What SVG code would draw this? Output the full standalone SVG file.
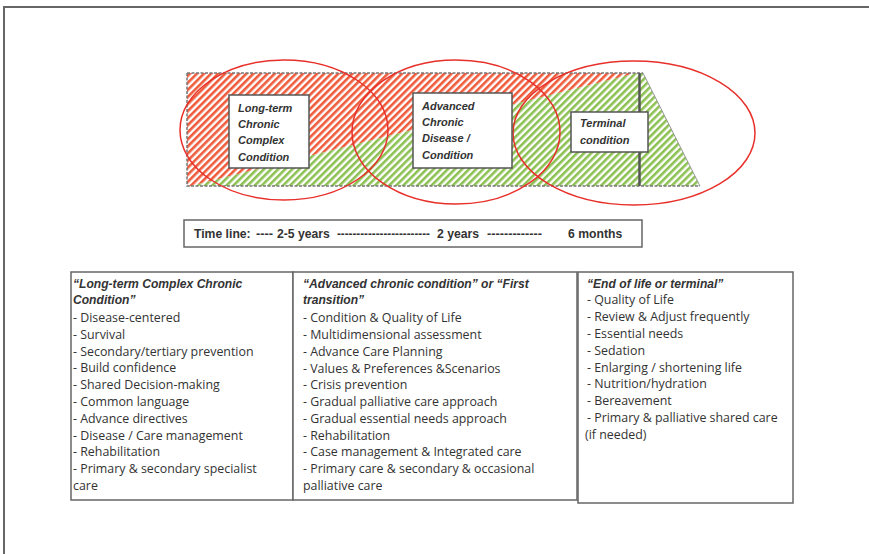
<svg xmlns="http://www.w3.org/2000/svg" width="869" height="554" viewBox="0 0 869 554">
<defs>
<pattern id="redHatch" patternUnits="userSpaceOnUse" width="5" height="5" patternTransform="rotate(45)">
<rect width="5" height="5" fill="#ffffff"/>
<rect width="2.6" height="5" fill="#ef5a3a"/>
</pattern>
<pattern id="greenHatch" patternUnits="userSpaceOnUse" width="5" height="5" patternTransform="rotate(45)">
<rect width="5" height="5" fill="#ffffff"/>
<rect width="2.6" height="5" fill="#8cc152"/>
</pattern>
</defs>
<style>
.frame{stroke:#666;stroke-width:2;fill:none}
.ell{fill:none;stroke:#e8302a;stroke-width:1.5}
.lbl{fill:#ffffff;stroke:#555;stroke-width:1.5}
.lt{font-family:"Liberation Sans",Arial,sans-serif;font-size:11px;font-weight:bold;font-style:italic;fill:#333}
.box{fill:#ffffff;stroke:#666;stroke-width:1.5}
.tt{font-family:"Liberation Sans",Arial,sans-serif;font-size:12.1px;font-weight:bold;font-style:italic;fill:#333}
.it{font-family:"Open Sans","Liberation Sans",Arial,sans-serif;font-size:12.4px;fill:#333}
.tl{font-family:"Liberation Sans",Arial,sans-serif;font-size:12.2px;font-weight:bold;fill:#333}
</style>
<rect width="869" height="554" fill="#ffffff"/>
<path class="frame" d="M4,554 V7 H869"/>

<g id="phases">
<polygon points="187,73 637,73 187,187" fill="url(#redHatch)"/>
<polygon points="187,187 637,73 643,73 700,186 187,186" fill="url(#greenHatch)"/>
<path d="M187,73 H643 M187,73 V186 H700" fill="none" stroke="#777" stroke-width="1.5" stroke-dasharray="3,1.5"/>
<line x1="643" y1="73" x2="700" y2="186" stroke="#999" stroke-width="1"/>
<line x1="639.5" y1="73" x2="639.5" y2="186" stroke="#555" stroke-width="2.5"/>
</g>

<g id="ellipses">
<ellipse class="ell" cx="284" cy="130" rx="104" ry="70"/>
<ellipse class="ell" cx="456" cy="132" rx="104" ry="72"/>
<ellipse class="ell" cx="634" cy="133" rx="121" ry="72"/>
</g>

<g id="label-longterm">
<rect class="lbl" x="229" y="95" width="80" height="73"/>
<text class="lt" x="238" y="112">Long-term</text>
<text class="lt" x="238" y="128">Chronic</text>
<text class="lt" x="238" y="144">Complex</text>
<text class="lt" x="238" y="161">Condition</text>
</g>

<g id="label-advanced">
<rect class="lbl" x="413" y="93" width="99" height="75"/>
<text class="lt" x="422" y="110">Advanced</text>
<text class="lt" x="422" y="126">Chronic</text>
<text class="lt" x="422" y="142">Disease /</text>
<text class="lt" x="422" y="159">Condition</text>
</g>

<g id="label-terminal">
<rect class="lbl" x="571" y="112" width="77" height="40"/>
<text class="lt" x="580" y="127">Terminal</text>
<text class="lt" x="580" y="144">condition</text>
</g>

<g id="timeline">
<rect class="box" x="184" y="220" width="458" height="27"/>
<text class="tl" x="194" y="238">Time line:</text>
<text class="tl" x="256" y="238" textLength="17" lengthAdjust="spacingAndGlyphs">----</text>
<text class="tl" x="277" y="238">2-5 years</text>
<text class="tl" x="337" y="238" textLength="93" lengthAdjust="spacingAndGlyphs">------------------------</text>
<text class="tl" x="437" y="238">2 years</text>
<text class="tl" x="487" y="238" textLength="55" lengthAdjust="spacingAndGlyphs">-------------</text>
<text class="tl" x="568" y="238">6 months</text>
</g>

<g id="box-longterm">
<rect class="box" x="71" y="272" width="222" height="228"/>
<text class="tt" x="73" y="288">“Long-term Complex Chronic</text>
<text class="tt" x="73" y="304">Condition”</text>
<text class="it" x="73" y="322">- Disease-centered</text>
<text class="it" x="73" y="339">- Survival</text>
<text class="it" x="73" y="356">- Secondary/tertiary prevention</text>
<text class="it" x="73" y="372">- Build  confidence</text>
<text class="it" x="73" y="389">- Shared Decision-making</text>
<text class="it" x="73" y="406">- Common language</text>
<text class="it" x="73" y="423">- Advance directives</text>
<text class="it" x="73" y="440">- Disease / Care management</text>
<text class="it" x="73" y="456">- Rehabilitation</text>
<text class="it" x="73" y="473">- Primary &amp; secondary specialist</text>
<text class="it" x="73" y="490">care</text>
</g>

<g id="box-advanced">
<rect class="box" x="293" y="272" width="284" height="228"/>
<text class="tt" x="303" y="288">“Advanced chronic condition” or “First</text>
<text class="tt" x="303" y="304">transition”</text>
<text class="it" x="303" y="322">- Condition &amp; Quality of Life</text>
<text class="it" x="303" y="339">- Multidimensional assessment</text>
<text class="it" x="303" y="356">- Advance Care Planning</text>
<text class="it" x="303" y="373">- Values &amp; Preferences &amp;Scenarios</text>
<text class="it" x="303" y="389">- Crisis prevention</text>
<text class="it" x="303" y="406">- Gradual palliative care approach</text>
<text class="it" x="303" y="423">- Gradual essential needs approach</text>
<text class="it" x="303" y="440">- Rehabilitation</text>
<text class="it" x="303" y="456">- Case management &amp; Integrated care</text>
<text class="it" x="303" y="473">- Primary care &amp; secondary &amp; occasional</text>
<text class="it" x="303" y="490">palliative care</text>
</g>

<g id="box-terminal">
<rect class="box" x="578" y="272" width="215" height="231"/>
<text class="tt" x="587" y="288">“End of life or terminal”</text>
<text class="it" x="587" y="304">- Quality of Life</text>
<text class="it" x="587" y="321">- Review &amp; Adjust frequently</text>
<text class="it" x="587" y="338">- Essential  needs</text>
<text class="it" x="587" y="355">- Sedation</text>
<text class="it" x="587" y="372">- Enlarging / shortening life</text>
<text class="it" x="587" y="388">- Nutrition/hydration</text>
<text class="it" x="587" y="405">- Bereavement</text>
<text class="it" x="587" y="422">- Primary &amp; palliative shared care</text>
<text class="it" x="585" y="439">(if needed)</text>
</g>
</svg>
